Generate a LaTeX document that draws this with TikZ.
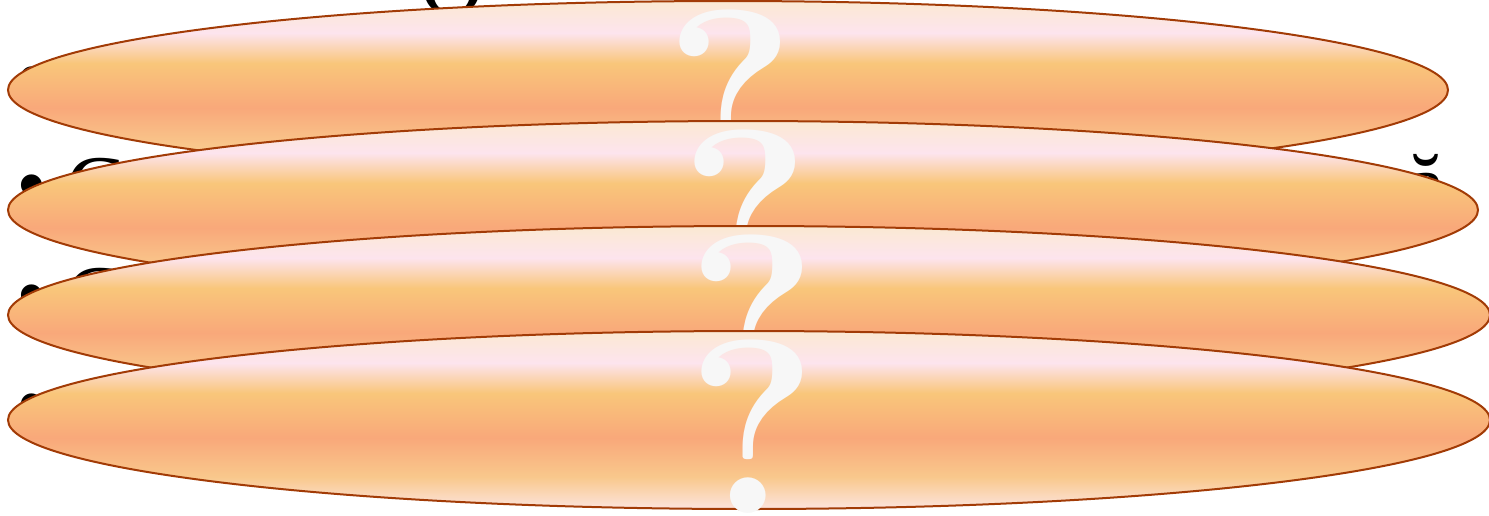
\documentclass[tikz,border=0pt]{standalone}
\usepackage{fontspec}
\setmainfont{Liberation Serif}
\newfontfamily\qfont{Latin Modern Roman}
\usetikzlibrary{shapes.geometric}
\definecolor{rim}{HTML}{A23B06}
\definecolor{qm}{HTML}{F7F7F7}
\definecolor{gA}{HTML}{FBE9D2}
\definecolor{gB}{HTML}{FDE4EE}
\definecolor{gC}{HTML}{F9C67A}
\definecolor{gD}{HTML}{F9A87A}
\definecolor{gE}{HTML}{F9C88C}
\definecolor{gF}{HTML}{FCE4DE}
\pgfdeclareverticalshading{discshade}{100bp}{color(0bp)=(gF); color(25bp)=(gF); color(34bp)=(gE); color(45bp)=(gD); color(57.5bp)=(gC); color(66bp)=(gB); color(75bp)=(gA); color(100bp)=(gA)}
\tikzset{
  bgtext/.style={font=\fontsize{44}{44}\selectfont, text=black, inner sep=0pt, anchor=base west},
  disc/.style={ellipse, draw=rim, line width=1pt, shading=discshade, inner sep=0pt, minimum height=89pt},
  qmark/.style={font=\qfont\fontsize{124}{124}\selectfont\bfseries, text=qm, inner sep=0pt, anchor=base},
}
\begin{document}
\begin{tikzpicture}[x=0.5pt, y=-0.5pt]
\useasboundingbox (0,0) rectangle (1489,515);
% background text, mostly hidden
\node[bgtext, anchor=base] (t0) at (452,14) {O};
\node[bgtext] (b1) at (16,106) {\textbullet};
\node[bgtext] (b2) at (16,214) {\textbullet};
\node[bgtext] (c2) at (66,216) {C};
\node[bgtext, anchor=base] (a2) at (1426,214) {ă};
\node[bgtext] (b3) at (16,324) {\textbullet};
\node[bgtext] (c3) at (66,326) {C};
\node[bgtext] (b4) at (16,433) {\textbullet};
% discs with question marks
\node[disc, minimum width=720pt] (e1) at (728,90) {};
\node[qmark] (q1) at (730,183) {?};
\node[disc, minimum width=735pt] (e2) at (743,210) {};
\node[qmark] (q2) at (745,303) {?};
\node[disc, minimum width=741pt] (e3) at (749,315) {};
\node[qmark] (q3) at (752,408) {?};
\node[disc, minimum width=741pt] (e4) at (749,420) {};
\node[qmark] (q4) at (752,513) {?};
\end{tikzpicture}
\end{document}
